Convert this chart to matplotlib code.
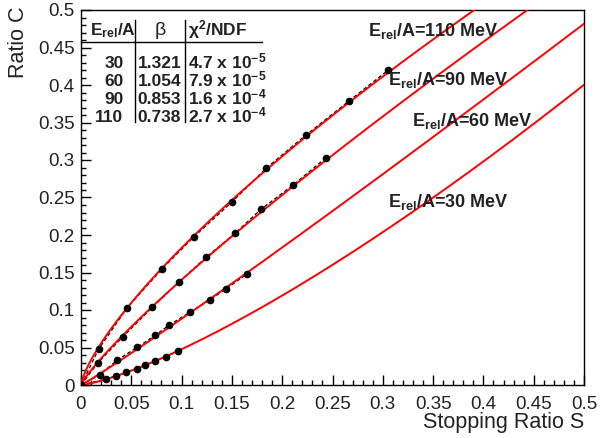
import numpy as np
import matplotlib
matplotlib.use('Agg')
import matplotlib.pyplot as plt
from matplotlib.ticker import MultipleLocator, FuncFormatter
from matplotlib.lines import Line2D

plt.rcParams['font.family'] = ['Liberation Sans', 'DejaVu Sans']
plt.rcParams['mathtext.fontset'] = 'custom'
plt.rcParams['mathtext.rm'] = 'Liberation Sans'
plt.rcParams['mathtext.it'] = 'Liberation Sans'
plt.rcParams['mathtext.bf'] = 'Liberation Sans:bold'
plt.rcParams['mathtext.default'] = 'regular'

# ---- data ----
energies = [30, 60, 90, 110]
betas = [1.321, 1.054, 0.853, 0.738]
chi2_mant = ['4.7', '7.9', '1.6', '2.7']
chi2_exp = [-5, -5, -4, -4]

S30 = [0, 0.0251, 0.0351, 0.0444, 0.0554, 0.0636, 0.0736, 0.0842, 0.0964]
C30 = [0, 0.0080, 0.0124, 0.0169, 0.0217, 0.0267, 0.0320, 0.0377, 0.0450]

S60 = [0, 0.0186, 0.0361, 0.0560, 0.0739, 0.0878, 0.1080, 0.1280, 0.1444, 0.1650]
C60 = [0, 0.0137, 0.0333, 0.0503, 0.0663, 0.0800, 0.0969, 0.1133, 0.1284, 0.1480]

S90 = [0, 0.0169, 0.0417, 0.0709, 0.0971, 0.1243, 0.1531, 0.1789, 0.2110, 0.2435]
C90 = [0, 0.0297, 0.0644, 0.1036, 0.1369, 0.1703, 0.2023, 0.2343, 0.2667, 0.3030]

S110 = [0, 0.0176, 0.0460, 0.0805, 0.1123, 0.1504, 0.1839, 0.2237, 0.2664, 0.3055]
C110 = [0, 0.0480, 0.1031, 0.1547, 0.1977, 0.2444, 0.2889, 0.3333, 0.3787, 0.4200]

series_S = [S30, S60, S90, S110]
series_C = [C30, C60, C90, C110]

W, H = 601, 438
fig = plt.figure(figsize=(W / 100, H / 100), dpi=100)
ax = fig.add_axes([81 / W, 1 - 385 / H, (584 - 81) / W, (385 - 10) / H])

s_fine = np.linspace(0, 0.5, 600)
for S, C, b in zip(series_S, series_C, betas):
    ax.plot(S, C, color='black', lw=0.9, ls=(0, (3, 2)), zorder=2)
    ax.plot(s_fine, s_fine ** b, color='#ff0000', lw=1.4, zorder=3)
    ax.plot(S, C, 'o', color='black', ms=4.5, zorder=4)

ax.set_xlim(0, 0.5)
ax.set_ylim(0, 0.5)
ax.xaxis.set_major_locator(MultipleLocator(0.05))
ax.xaxis.set_minor_locator(MultipleLocator(0.01))
ax.yaxis.set_major_locator(MultipleLocator(0.05))
ax.yaxis.set_minor_locator(MultipleLocator(0.01))
fmt = FuncFormatter(lambda v, p: ('%g' % round(v, 3)))
ax.xaxis.set_major_formatter(fmt)
ax.yaxis.set_major_formatter(fmt)
ax.tick_params(which='both', direction='in', top=False, right=False,
               labelsize=13.5, colors='black', labelcolor='#222222')
ax.tick_params(which='major', length=7, width=1)
ax.tick_params(which='minor', length=3.5, width=1)
ax.tick_params(axis='x', pad=8)
ax.tick_params(axis='y', pad=4.5)
for sp in ax.spines.values():
    sp.set_linewidth(1)

def fx(px):
    return px / W

def fy(py):
    return 1 - py / H

# axis titles
fig.text(fx(18), fy(7), 'Ratio C', rotation=90, ha='center', va='top',
         fontsize=15.5, color='#222222')
fig.text(fx(584), fy(428), 'Stopping Ratio S', ha='right', va='baseline',
         fontsize=15.5, color='#222222')

# curve labels
lab_pos = {30: (388, 207), 60: (412, 126), 90: (388, 85), 110: (368, 36)}
for e in energies:
    px, py = lab_pos[e]
    fig.text(fx(px), fy(py), 'E$_{rel}$/A=%d MeV' % e, ha='left', va='baseline',
             fontsize=13, fontweight='bold', color='#222222')

# table
tcol = '#222222'
tfs = 12.5
fig.text(fx(112.5), fy(35), 'E$_{rel}$/A', ha='center', va='baseline',
         fontsize=tfs, fontweight='bold', color=tcol)
fig.text(fx(160), fy(35), '\u03b2', ha='center', va='baseline',
         fontsize=14, color=tcol)
fig.text(fx(188), fy(35), '\u03c7$^{\\mathbf{2}}$/NDF', ha='left', va='baseline',
         fontsize=tfs, fontweight='bold', color=tcol)
row_y = [68, 86, 104, 122]
for e, b, m, ex, ry in zip(energies, betas, chi2_mant, chi2_exp, row_y):
    fig.text(fx(123.5), fy(ry), '%d' % e, ha='right', va='baseline',
             fontsize=tfs, fontweight='bold', color=tcol)
    fig.text(fx(137.5), fy(ry), '%.3f' % b, ha='left', va='baseline',
             fontsize=tfs, fontweight='bold', color=tcol)
    fig.text(fx(188), fy(ry), '%s x 10$^{%d}$' % (m, ex), ha='left', va='baseline',
             fontsize=tfs, fontweight='bold', color=tcol)

for xv in (135, 185):
    fig.add_artist(Line2D([fx(xv), fx(xv)], [fy(20), fy(122)], color='black', lw=1))
fig.add_artist(Line2D([fx(81), fx(262)], [fy(42), fy(42)], color='black', lw=1))

fig.savefig('out.png', dpi=100)
